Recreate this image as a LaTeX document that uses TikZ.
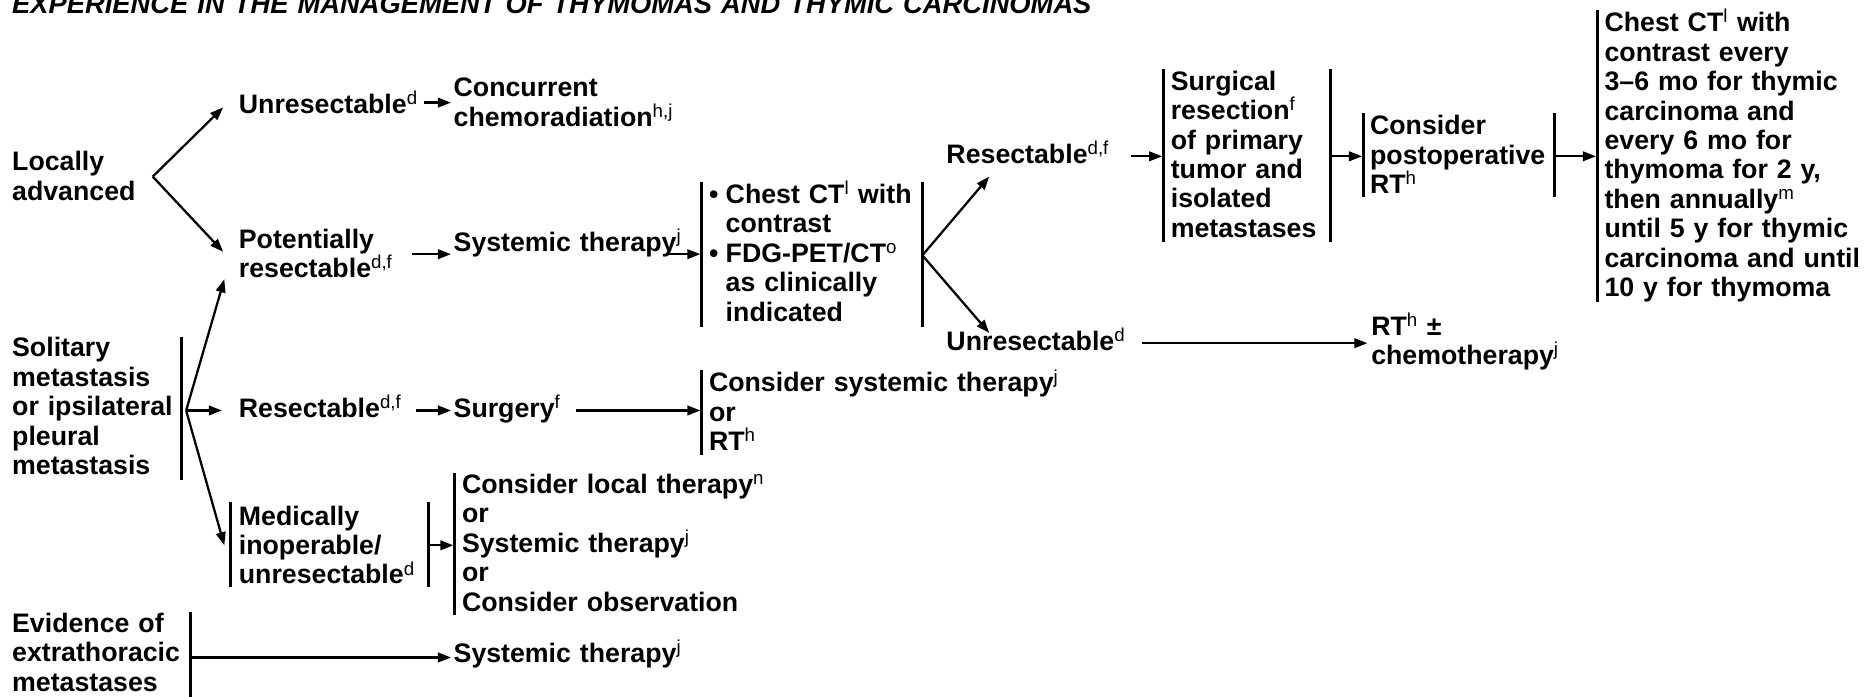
\documentclass[tikz,border=0pt]{standalone}
\usepackage{fontspec}
\setmainfont{Liberation Sans}
\usetikzlibrary{arrows.meta}
\setlength{\lineskiplimit}{-20pt}
\tikzset{lbl/.style={anchor=base west, inner sep=0pt, text width=12cm, align=left}}
\tikzset{bar/.style={line width=2.4pt}}
\tikzset{arr/.style={line width=1.9pt, -{Triangle[length=11pt, width=8pt]}}}
\newcommand{\sps}[1]{\textsuperscript{\mdseries #1}}
\newcommand{\bul}{\leavevmode\llap{\textbullet\hspace{6pt}}}

\begin{document}
\begin{tikzpicture}[x=1pt, y=-1pt, font=\fontsize{22.4}{24.7}\selectfont\bfseries]
  \useasboundingbox (0,0) rectangle (1568,584);
  \clip (0,0) rectangle (1568,584);

  \node[lbl, text width=40cm, font=\fontsize{22.9}{24.7}\selectfont\bfseries\itshape] (title) at (10,11)
    {EXPERIENCE IN THE MANAGEMENT OF THYMOMAS AND THYMIC CARCINOMAS};

  % presentation
  \node[lbl] (loc) at (10,143) {Locally\\advanced};
  \node[lbl] (sol) at (10,299) {Solitary\\metastasis\\or ipsilateral\\pleural\\metastasis};
  \node[lbl] (evi) at (10,530) {Evidence of\\extrathoracic\\metastases};

  % locally advanced
  \node[lbl] (unr1) at (200,95) {Unresectable\sps{d}};
  \node[lbl] (con) at (380,81) {Concurrent\\chemoradiation\sps{h,j}};
  \node[lbl] (pot) at (200,208) {Potentially\\resectable\sps{d,f}};
  \node[lbl] (sys1) at (380,211) {Systemic therapy\sps{j}};
  \node[lbl] (img) at (608,170.5) {\bul Chest CT\sps{l} with\\contrast\\\bul FDG-PET/CT\sps{o}\\as clinically\\indicated};
  \node[lbl] (res2) at (793,137) {Resectable\sps{d,f}};
  \node[lbl] (unr2) at (793,293.5) {Unresectable\sps{d}};
  \node[lbl] (surg) at (981,75.5) {Surgical\\resection\sps{f}\\of primary\\tumor and\\isolated\\metastases};
  \node[lbl] (post) at (1148,113) {Consider\\postoperative\\RT\sps{h}};
  \node[lbl] (fol) at (1344.5,26.5) {Chest CT\sps{l} with\\contrast every\\3\textendash6 mo for thymic\\carcinoma and\\every 6 mo for\\thymoma for 2 y,\\then annually\sps{m}\\until 5 y for thymic\\carcinoma and until\\10 y for thymoma};
  \node[lbl] (rtc) at (1149,281) {RT\sps{h} \textpm\\chemotherapy\sps{j}};

  % solitary metastasis
  \node[lbl] (res3) at (200,350) {Resectable\sps{d,f}};
  \node[lbl] (sur) at (380,350) {Surgery\sps{f}};
  \node[lbl] (opt) at (594,328.5) {Consider systemic therapy\sps{j}\\or\\RT\sps{h}};
  \node[lbl] (med) at (200,440) {Medically\\inoperable/\\unresectable\sps{d}};
  \node[lbl] (loc2) at (387,413.5) {Consider local therapy\sps{n}\\or\\Systemic therapy\sps{j}\\or\\Consider observation};

  % extrathoracic
  \node[lbl] (sys2) at (380,555) {Systemic therapy\sps{j}};

  % brackets
  \foreach \x/\ya/\yb in {
    152/282/402,
    160/513/590,
    193.5/420.5/492,
    359/420.5/492,
    381/396.5/515.5,
    588/152.5/274,
    773/152.5/274,
    588/310/381,
    975/58/203,
    1115/58/203,
    1142.5/95/165,
    1303/95/165,
    1338.5/8/253%
  } {
    \draw[bar] (\x,\ya) -- (\x,\yb);
  }

  \foreach \n/\x/\y in {
    lav/128/148, lau/187/90, lad/187/211,
    unr1e/355/86, con1/378/86,
    pote/345/213, sys1w/378/213,
    sys1e/560/213, img1/587/213,
    imgv/773/214, res2t/829/148, unr2t/829/279,
    res2e/948/131, surg1/974/131,
    surge/1115/131, post1/1141.5/131,
    poste/1303/131, fol1/1337.5/131,
    unr2e/957/287.6, rtc1/1146/287.6,
    solv/156/344, pott/188/234, res3w/186/344, medt/188/457,
    res3e/349/344, sur1/378/344,
    sure/483/344, opt1/587/344,
    mede/359/457, loc21/380/457,
    evie/161/551, sys21/378/551%
  } {
    \coordinate (\n) at (\x,\y);
  }

  \foreach \u/\v in {
    lav/lau, lav/lad,
    unr1e/con1, pote/sys1w, sys1e/img1,
    imgv/res2t, imgv/unr2t,
    res2e/surg1, surge/post1, poste/fol1,
    unr2e/rtc1,
    solv/pott, solv/res3w, solv/medt,
    res3e/sur1, sure/opt1, mede/loc21,
    evie/sys21%
  } {
    \draw[arr] (\u) -- (\v);
  }
\end{tikzpicture}
\end{document}
